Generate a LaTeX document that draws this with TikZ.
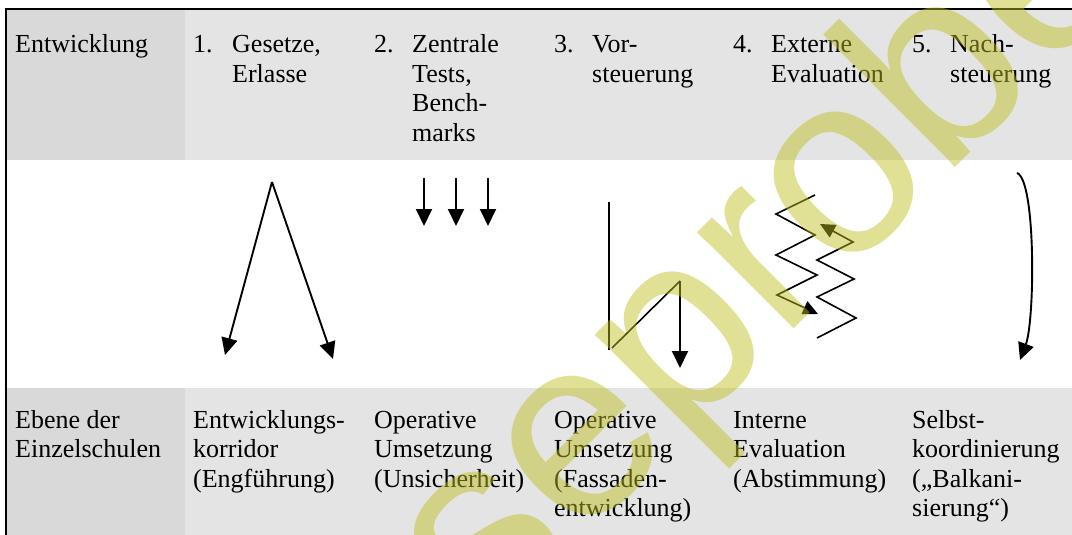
\documentclass[tikz,border=0pt]{standalone}
\usepackage{fontspec}
\setmainfont{Liberation Serif}
\newfontfamily\wmfont{Liberation Sans}
\usetikzlibrary{arrows.meta}
\definecolor{headdark}{RGB}{217,217,217}
\definecolor{headlight}{RGB}{228,228,228}
\definecolor{wmyellow}{RGB}{191,191,32}
\newcommand{\celltext}[1]{\begin{tabular}[t]{@{}l@{}}#1\end{tabular}}
\tikzset{
  lbl/.style={font=\fontsize{26}{29.5}\selectfont, inner sep=0pt, anchor=base west},
  flow/.style={line width=1.9pt, -{Triangle[length=17pt,width=16pt]}},
  stroke/.style={line width=1.6pt},
}
\begin{document}
\begin{tikzpicture}[x=1pt,y=-1pt]
  \useasboundingbox (0,0) rectangle (1072,535);
  \clip (0,0) rectangle (1072,535);
  % table background
  \fill[headlight] (185,9) rectangle (1072,160);
  \fill[headdark] (6,9) rectangle (185,160);
  \fill[headlight] (185,388) rectangle (1072,535);
  \fill[headdark] (6,388) rectangle (185,535);
  \coordinate (cornerbl) at (6,535);
  \coordinate (cornertr) at (1072,9);
  \draw[line width=2.5pt] (cornerbl) |- (cornertr);
  % top row
  \node[lbl] (entw) at (15,53) {Entwicklung};
  \node[lbl] (num1) at (193,53) {1.};
  \node[lbl] (head1) at (232,53) {\celltext{Gesetze,\\Erlasse}};
  \node[lbl] (num2) at (374,53) {2.};
  \node[lbl] (head2) at (412,53) {\celltext{Zentrale\\Tests,\\Bench-\\marks}};
  \node[lbl] (num3) at (554,53) {3.};
  \node[lbl] (head3) at (592,53) {\celltext{Vor-\\steuerung}};
  \node[lbl] (num4) at (733,53) {4.};
  \node[lbl] (head4) at (771,53) {\celltext{Externe\\Evaluation}};
  \node[lbl] (num5) at (912,53) {5.};
  \node[lbl] (head5) at (950,53) {\celltext{Nach-\\steuerung}};
  % bottom row
  \node[lbl] (ebene) at (15,428) {\celltext{Ebene der\\Einzelschulen}};
  \node[lbl] (foot1) at (193,428) {\celltext{Entwicklungs-\\korridor\\(Engführung)}};
  \node[lbl] (foot2) at (374,428) {\celltext{Operative\\Umsetzung\\(Unsicherheit)}};
  \node[lbl] (foot3) at (554,428) {\celltext{Operative\\Umsetzung\\(Fassaden-\\entwicklung)}};
  \node[lbl] (foot4) at (733,428) {\celltext{Interne\\Evaluation\\(Abstimmung)}};
  \node[lbl] (foot5) at (912,428) {\celltext{Selbst-\\koordinierung\\(„Balkani-\\sierung“)}};
  % 1: corridor
  \coordinate (apex) at (272,182);
  \coordinate (tipL) at (225,355);
  \coordinate (tipR) at (333,359);
  \draw[flow] (apex) -- (tipL);
  \draw[flow] (apex) -- (tipR);
  % 2: tests
  \foreach \x in {424,456,488}
    \draw[flow] (\x,178) -- (\x,226);
  % 3: facade
  \coordinate (facTop) at (609,202);
  \coordinate (facBot) at (609,350);
  \coordinate (facFoot) at (612,348);
  \coordinate (facPeak) at (680,281);
  \coordinate (facTip) at (680,368);
  \draw[stroke] (facTop) -- (facBot);
  \draw[stroke] (facFoot) -- (facPeak);
  \draw[flow] (facPeak) -- (facTip);
  % 4: zigzags
  \draw[stroke, -{Triangle[length=15pt,width=14pt]}] (815,195) -- (776,214) -- (815,235) -- (776,255)
    -- (817,275) -- (777,295) -- (818,314);
  \draw[stroke, -{Triangle[length=15pt,width=14pt]}] (817,338) -- (856,318) -- (817,297) -- (854,279)
    -- (817,260) -- (853,242) -- (820,224);
  % 5: bend
  \coordinate (bendTop) at (1017,173);
  \coordinate (bendTip) at (1020,360);
  \draw[flow] (bendTop) .. controls (1036,180) and (1035,320) .. (bendTip);
  % watermark
  \node[text=wmyellow, opacity=0.47, font=\wmfont\fontsize{258}{258}\selectfont,
    rotate=45, anchor=base west, inner sep=0pt] (wm) at (284,839) {Leseprobe};
\end{tikzpicture}
\end{document}
